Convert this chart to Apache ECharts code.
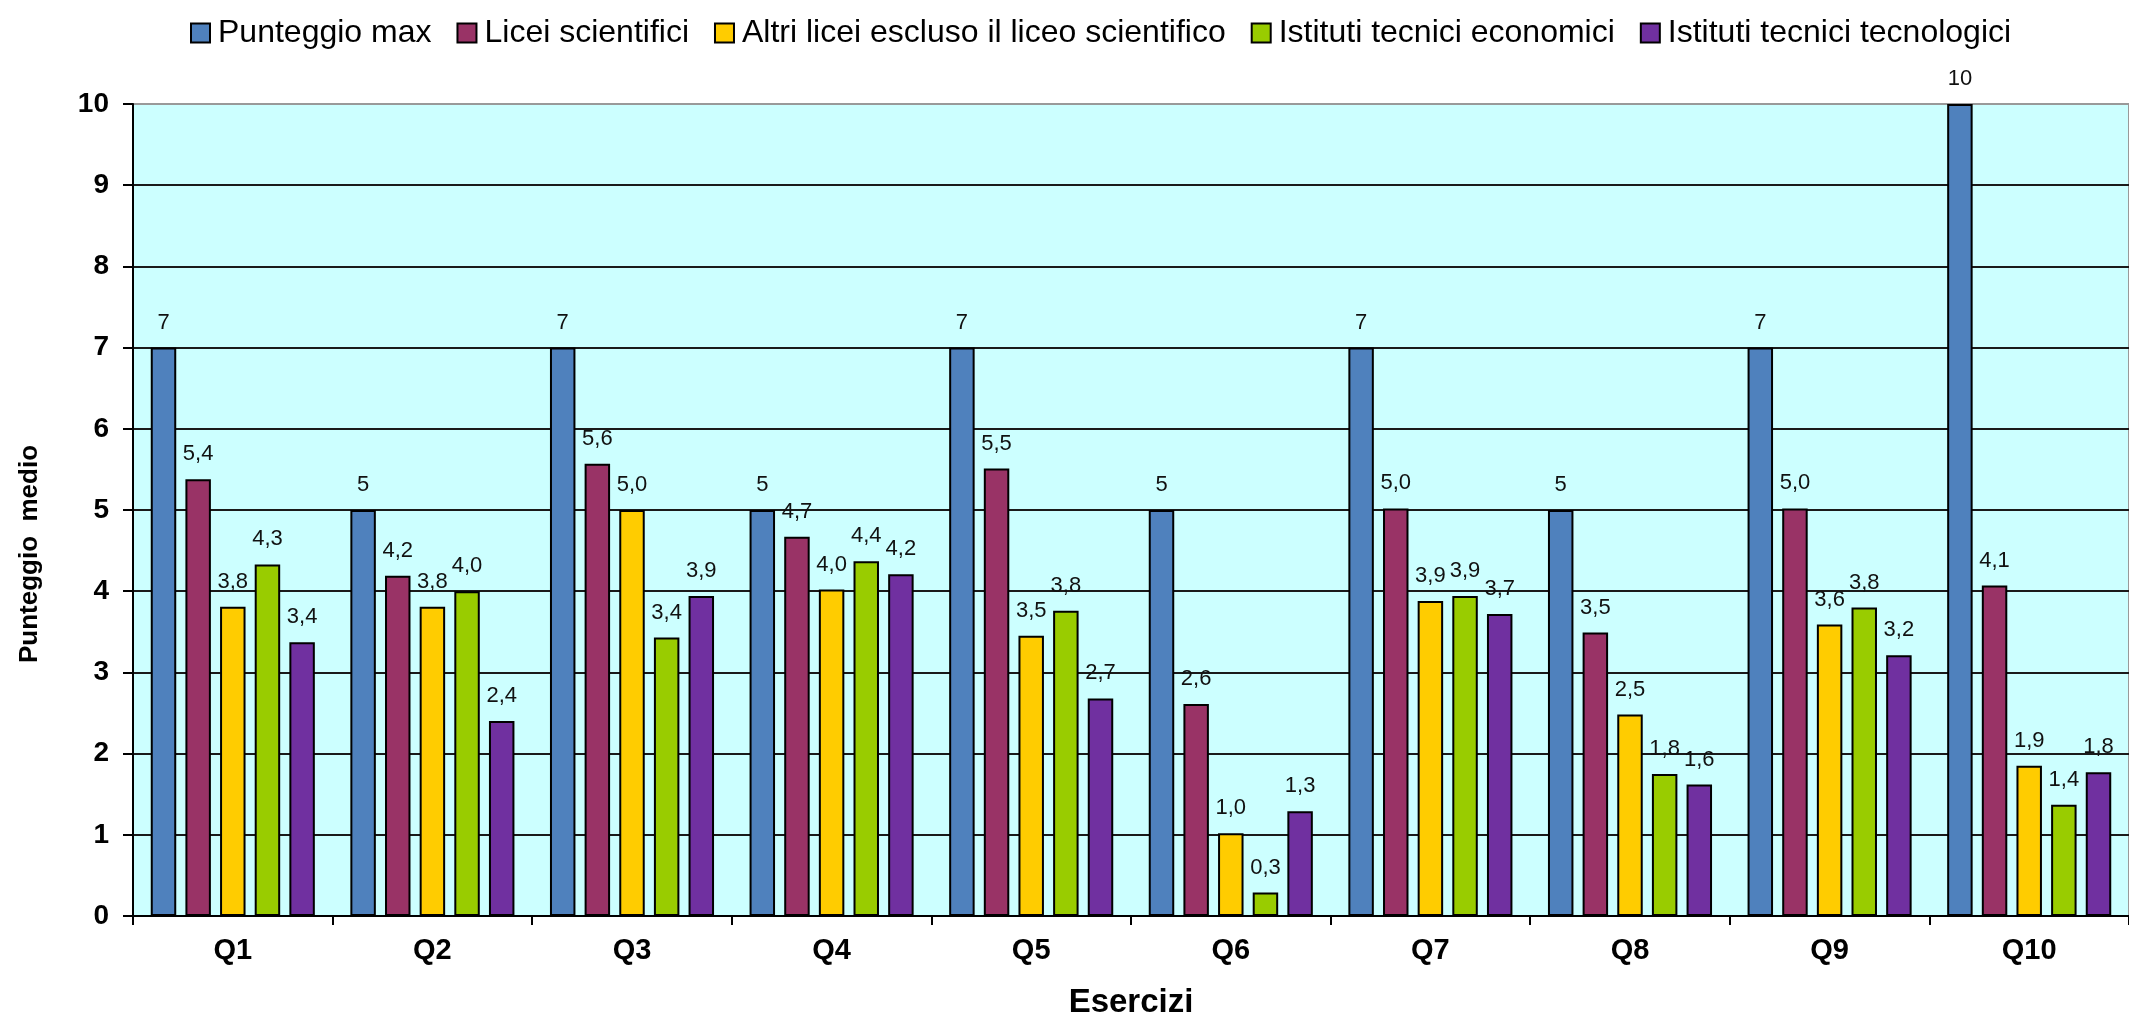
<!DOCTYPE html>
<html>
<head>
<meta charset="utf-8">
<script src="https://cdn.jsdelivr.net/npm/echarts@6/dist/echarts.min.js"></script>
<style>
html,body{margin:0;padding:0;background:#fff;}
#chart{width:2129px;height:1024px;}
</style>
</head>
<body>
<div id="chart"></div>
<script>
const categories = ['Q1','Q2','Q3','Q4','Q5','Q6','Q7','Q8','Q9','Q10'];
const seriesNames = ['Punteggio max','Licei scientifici','Altri licei escluso il liceo scientifico','Istituti tecnici economici','Istituti tecnici tecnologici'];
const punteggioMax = [7,5,7,5,7,5,7,5,7,10];
const liceiScientifici = [5.38,4.19,5.57,4.67,5.51,2.61,5.02,3.49,5.02,4.07];
const altriLicei = [3.81,3.81,5.0,4.02,3.45,1.02,3.88,2.48,3.59,1.85];
const tecniciEconomici = [4.33,4.0,3.43,4.37,3.76,0.29,3.94,1.75,3.80,1.37];
const tecniciTecnologici = [3.37,2.4,3.94,4.21,2.68,1.29,3.72,1.62,3.21,1.77];
const yTicks = [0,1,2,3,4,5,6,7,8,9,10];

const colors = ['#4F81BD','#993366','#FFCC00','#99CC00','#7030A0'];
const FONT = "'Liberation Sans', Arial, sans-serif";

function fmt(isInt){
  return function(p){
    return isInt ? String(p.value) : p.value.toFixed(1).replace('.', ',');
  };
}

const dataSets = [punteggioMax, liceiScientifici, altriLicei, tecniciEconomici, tecniciTecnologici];
const series = dataSets.map((d,i)=>({
  name: seriesNames[i],
  type: 'bar',
  data: d,
  barGap: '36%',
  barCategoryGap: '17.8%',
  itemStyle: {color: colors[i], borderColor: '#000', borderWidth: 2},
  label: {
    show: true,
    position: 'top',
    distance: 14,
    formatter: fmt(i===0),
    fontFamily: FONT,
    fontSize: 22,
    color: '#111'
  }
}));

const chart = echarts.init(document.getElementById('chart'), null, {renderer:'canvas'});
chart.setOption({
  animation: false,
  color: colors,
  textStyle: {fontFamily: FONT},
  legend: {
    top: 12,
    left: 185,
    itemWidth: 19,
    itemHeight: 19,
    itemGap: 25,
    icon: 'rect',
    textStyle: {fontFamily: FONT, fontSize: 32, color: '#000', padding: [0,0,0,3]},
    data: seriesNames
  },
  grid: {
    left: 133,
    right: -4,
    top: 104,
    bottom: 101,
    show: true,
    backgroundColor: '#CCFFFF',
    borderColor: '#999999',
    borderWidth: 2
  },
  xAxis: {
    type: 'category',
    data: categories,
    name: 'Esercizi',
    nameLocation: 'middle',
    nameGap: 70,
    nameTextStyle: {fontFamily: FONT, fontSize: 33, fontWeight: 'bold', color: '#000'},
    axisLine: {show: true, lineStyle: {color: '#000', width: 2}},
    axisTick: {show: true, length: 9, lineStyle: {color: '#000', width: 2}},
    axisLabel: {fontFamily: FONT, fontSize: 29, fontWeight: 'bold', color: '#000', margin: 20}
  },
  yAxis: {
    type: 'value',
    min: yTicks[0],
    max: yTicks[yTicks.length-1],
    interval: 1,
    name: 'Punteggio  medio',
    nameLocation: 'middle',
    nameGap: 90,
    nameTextStyle: {fontFamily: FONT, fontSize: 26, fontWeight: 'bold', color: '#000', padding: [0,88,0,0]},
    axisLine: {show: true, lineStyle: {color: '#000', width: 2}},
    axisTick: {show: true, length: 10, lineStyle: {color: '#000', width: 2}},
    axisLabel: {fontFamily: FONT, fontSize: 28, fontWeight: 'bold', color: '#000', margin: 24},
    splitLine: {show: true, showMaxLine: false, lineStyle: {color: '#1a1a1a', width: 2}}
  },
  series: series
});
</script>
</body>
</html>
